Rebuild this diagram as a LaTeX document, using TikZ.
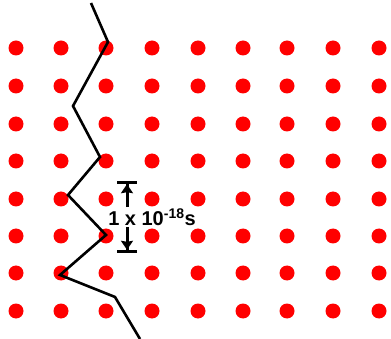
\documentclass[tikz,border=0pt]{standalone}
\usepackage{fontspec}
\setmainfont{Liberation Sans}
\usetikzlibrary{arrows.meta}
\definecolor{dotred}{RGB}{255,0,0}

\begin{document}
\begin{tikzpicture}[x=1pt, y=-1pt,
  atom/.style={circle, fill=dotred, inner sep=0pt, minimum size=15pt},
  track/.style={line width=2.6pt, draw=black, line join=miter},
  span/.style={-{Stealth[length=9pt,width=12pt,inset=1pt]Bar[width=20pt,line width=3.2pt]}, line width=3pt, draw=black},
  tag/.style={font=\bfseries\fontsize{20}{20}\selectfont, inner sep=1pt}
]
\useasboundingbox (0,0) rectangle (391,339);
% lattice
\foreach \c [count=\i] in {16,61,106,152,198,243,287,333,379}
  \foreach \r [count=\j] in {48,86,124,161,199,236,273,311}
    \node[atom] (a\i-\j) at (\c,\r) {};
% zigzag
\coordinate (z0) at (91,3);
\coordinate (z1) at (108,42);
\coordinate (z2) at (73,106);
\coordinate (z3) at (100,157);
\coordinate (z4) at (68,195);
\coordinate (z5) at (106,235);
\coordinate (z6) at (60,275);
\coordinate (z7) at (115,297);
\coordinate (z8) at (140,339);
\draw[track] (z0) -- (z1) -- (z2) -- (z3) -- (z4) -- (z5) -- (z6) -- (z7) -- (z8);
% time span
\node[tag] (dt) at (152,217) {1 x 10\textsuperscript{-18}s};
\coordinate (top) at (127,181);
\coordinate (bot) at (127,253);
\draw[span] (dt.north -| top) -- (top);
\draw[span] (dt.south -| bot) -- (bot);
\end{tikzpicture}
\end{document}
